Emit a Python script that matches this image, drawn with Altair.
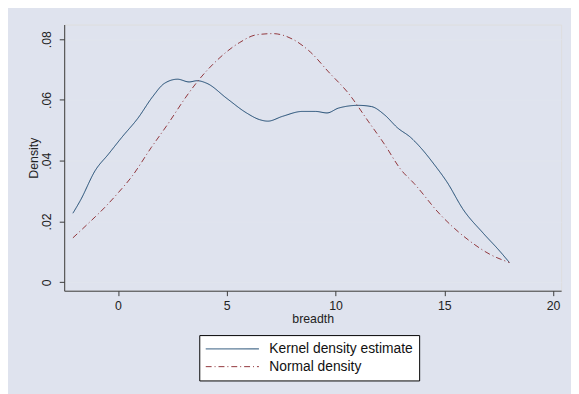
import altair as alt
import pandas as pd

series = ["Kernel density estimate", "Normal density"]

kernel_x = [-2.07, -1.72, -1.04, -0.43, 0.17, 0.92, 1.60, 2.13, 2.74, 3.27, 3.64, 4.10,
            5.00, 5.91, 6.51, 6.89, 7.57, 8.48, 9.08, 9.61, 10.14, 11.04, 11.65, 12.25,
            12.85, 13.46, 13.91, 14.52, 15.12, 15.88, 16.78, 17.54, 17.99]
kernel_y = [0.0227, 0.0270, 0.0368, 0.0422, 0.0476, 0.0540, 0.0611, 0.0654, 0.0668, 0.0659,
            0.0663, 0.0654, 0.0605, 0.0557, 0.0535, 0.0530, 0.0546, 0.0562, 0.0562, 0.0557,
            0.0573, 0.0582, 0.0578, 0.0551, 0.0508, 0.0476, 0.0443, 0.0389, 0.0330, 0.0238,
            0.0162, 0.0103, 0.0065]

normal_x = [-2.07, -1.34, -0.58, 0.02, 0.62, 1.53, 2.28, 3.19, 3.64, 4.55, 5.60, 6.36,
            7.12, 8.02, 8.85, 9.68, 10.59, 11.50, 12.25, 13.01, 13.61, 14.82, 16.18, 17.09,
            17.99]
normal_y = [0.0146, 0.0195, 0.0248, 0.0295, 0.0346, 0.0443, 0.0519, 0.0616, 0.0659, 0.0730,
            0.0789, 0.0814, 0.0818, 0.0800, 0.0757, 0.0692, 0.0622, 0.0530, 0.0454, 0.0370,
            0.0325, 0.0222, 0.0135, 0.0092, 0.0065]

x_ticks = [0, 5, 10, 15, 20]
y_ticks = [0, 0.02, 0.04, 0.06, 0.08]

df = pd.concat([
    pd.DataFrame({"breadth": kernel_x, "density": kernel_y, "series": series[0], "order": range(len(kernel_x))}),
    pd.DataFrame({"breadth": normal_x, "density": normal_y, "series": series[1], "order": range(len(normal_x))}),
])

legend = alt.Legend(title=None, orient="none", legendX=137, legendY=315,
                    direction="vertical", fillColor="white",
                    strokeColor="black", padding=6, rowPadding=2, clipHeight=16,
                    labelFontSize=14, labelColor="#111111",
                    labelExpr="datum.label + '\u00a0\u00a0\u00a0'",
                    labelOffset=10, symbolType="stroke",
                    symbolSize=2916, symbolStrokeWidth=1,
                    labelLimit=300)

chart = alt.Chart(df).mark_line(strokeWidth=1, clip=True, interpolate="monotone").encode(
    x=alt.X("breadth:Q",
            scale=alt.Scale(domain=[-2.47, 20.37], nice=False, zero=False),
            axis=alt.Axis(title="breadth", values=x_ticks, grid=False, tickSize=5,
                          labelPadding=4, labelFontSize=12.5, titleFontSize=12.5,
                          titleFontWeight="normal", titleY=32, titleBaseline="alphabetic",
                          domainColor="#3a3a3a", tickColor="#3a3a3a", labelColor="#222222",
                          titleColor="#222222")),
    y=alt.Y("density:Q",
            scale=alt.Scale(domain=[-0.0028, 0.0848], nice=False, zero=False),
            axis=alt.Axis(title="Density", values=y_ticks, grid=True, tickSize=5,
                          gridColor="#e1e5ee", gridWidth=1,
                          labelExpr="datum.value == 0 ? '0' : substring(format(datum.value, '.2f'), 1)",
                          labelAngle=270, labelAlign="center", labelBaseline="bottom",
                          labelPadding=6, labelFontSize=12.5, titleFontSize=12.5,
                          titleFontWeight="normal", titleX=-31, titleY=135, titleAngle=270,
                          titleAlign="center", titleBaseline="middle",
                          domainColor="#3a3a3a", tickColor="#3a3a3a", labelColor="#222222",
                          titleColor="#222222")),
    color=alt.Color("series:N",
                    scale=alt.Scale(domain=series, range=["#1a476f", "#90353b"]),
                    legend=legend),
    strokeDash=alt.StrokeDash("series:N",
                              scale=alt.Scale(domain=series, range=[[1, 0], [6, 3, 1, 3]]),
                              legend=legend),
    order="order:Q",
).properties(
    width=504,
    height=270,
    background="#dfe3ee",
    padding={"left": 57, "top": 14, "right": 10, "bottom": 102},
    autosize=alt.AutoSizeParams(type="none"),
).configure_view(
    fill="white", stroke=None
).configure(
    font="Liberation Sans"
)

chart.save("out.html", embed_options={"renderer": "svg", "actions": False})
